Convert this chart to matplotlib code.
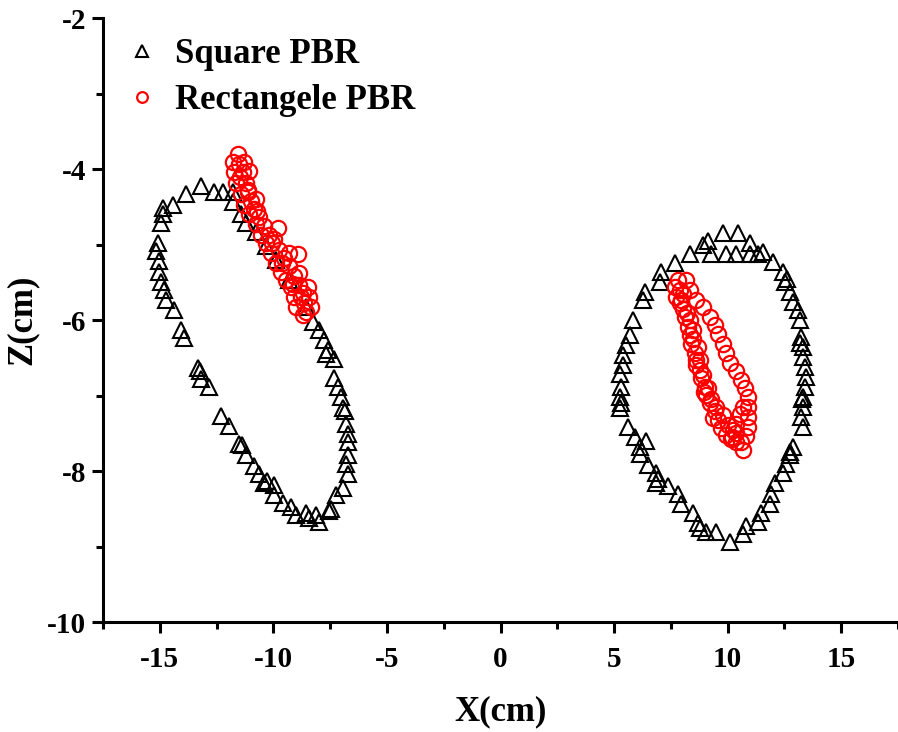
import matplotlib
matplotlib.use("Agg")
import matplotlib.pyplot as plt
from matplotlib.ticker import MultipleLocator

# Square PBR trajectory (black triangles)
sq_x = [-13.19, -13.85, -14.44, -14.88, -14.95, -15.10, -15.17, -15.02, -15.02, -14.95,
        -14.80, -14.73, -14.36, -14.07, -13.92, -13.33, -13.19, -12.82, -12.30, -11.94,
        -11.50, -11.20, -10.84, -10.62, -10.40, -9.96, -9.96, -9.59, -9.22, -9.00,
        -8.56, -8.12, -7.97, -7.53, -7.24, -6.95, -6.73, -6.80, -6.73, -6.73,
        -6.80, -6.95, -7.02, -7.17, -7.31, -7.31, -7.61, -7.75, -7.97, -8.27,
        -8.56, -9.30, -9.88, -10.32, -10.76, -11.20, -11.42, -11.79, -11.79, -12.23,
        -12.60, -14.85, -13.25, -11.40, -10.30, -8.45, -7.45, -6.70, -6.85, -7.70,
        # right loop
        9.79, 10.45, 10.97, 11.56, 12.00, 12.44, 12.51, 12.73, 12.88, 13.10,
        13.17, 13.25, 13.32, 13.32, 13.39, 13.47, 13.39, 13.32, 13.32, 13.25,
        13.32, 12.88, 12.73, 12.58, 12.44, 12.07, 11.92, 11.85, 11.48, 11.34,
        10.82, 10.68, 10.09, 9.50, 9.06, 8.69, 8.47, 7.96, 7.81, 7.37,
        6.86, 6.86, 6.49, 6.12, 6.12, 5.90, 5.61, 5.24, 5.24, 5.32,
        5.24, 5.39, 5.39, 5.54, 5.68, 5.83, 6.27, 6.34, 7.00, 7.08,
        7.67, 8.33, 8.91, 9.28, 9.94, 10.38, 10.97, 11.34, 9.15, 12.60,
        13.20, 13.28, 12.75, 8.80, 6.95, 5.30, 6.40]
sq_z = [-4.22, -4.33, -4.47, -4.60, -4.71, -4.98, -5.09, -5.22, -5.36, -5.49,
        -5.60, -5.73, -5.87, -6.13, -6.24, -6.64, -6.78, -6.89, -7.27, -7.40,
        -7.64, -7.78, -7.93, -8.04, -8.16, -8.18, -8.31, -8.42, -8.47, -8.58,
        -8.56, -8.58, -8.67, -8.53, -8.31, -8.22, -8.04, -7.91, -7.78, -7.51,
        -7.38, -7.16, -7.02, -6.89, -6.76, -6.51, -6.40, -6.27, -6.13, -6.02,
        -5.82, -5.47, -5.20, -5.02, -4.84, -4.71, -4.60, -4.44, -4.31, -4.31,
        -4.31, -4.52, -6.68, -7.66, -8.13, -8.62, -8.50, -7.62, -7.20, -6.45,
        # right loop
        -4.85, -4.85, -4.98, -5.10, -5.23, -5.36, -5.49, -5.63, -5.76, -5.87,
        -6.00, -6.22, -6.35, -6.49, -6.62, -6.75, -6.88, -7.02, -7.15, -7.28,
        -7.41, -7.68, -7.79, -7.90, -8.03, -8.16, -8.30, -8.43, -8.56, -8.67,
        -8.72, -8.83, -8.94, -8.80, -8.80, -8.69, -8.56, -8.43, -8.30, -8.19,
        -8.16, -8.03, -7.92, -7.77, -7.68, -7.55, -7.41, -7.17, -7.02, -6.88,
        -6.71, -6.60, -6.46, -6.33, -6.20, -6.00, -5.74, -5.63, -5.49, -5.36,
        -5.25, -5.12, -5.01, -5.12, -5.12, -5.12, -5.12, -5.12, -4.95, -5.45,
        -6.30, -7.05, -7.75, -8.75, -8.10, -7.10, -7.60]

# Rectangle PBR trajectory (red circles)
re_x = [-11.57, -11.50, -11.35, -11.20, -11.13, -10.98, -10.84, -10.62, -10.40, -10.18,
        -9.96, -9.74, -9.52, -9.30, -9.07, -8.85, -8.71, -8.63, -8.56, -8.71,
        -9.00, -9.07, -9.22, -9.44, -9.66, -9.88, -10.10, -10.32, -10.54, -10.76,
        -11.06, -11.28, -11.42, -11.64, -11.72, -11.79, -11.28, -11.06, -10.76, -9.81,
        -9.30, -8.93, -8.49, -8.41, -8.34, -8.85, -11.45, -11.10, -10.70, -10.05,
        -9.60, -9.15, -8.80,
        # right
        7.81, 7.89, 7.96, 8.03, 8.11, 8.25, 8.33, 8.40, 8.55, 8.62,
        8.77, 8.84, 8.99, 9.06, 9.21, 9.43, 9.57, 9.72, 9.94, 10.16,
        10.38, 10.68, 8.18, 8.33, 8.62, 8.91, 9.21, 9.43, 9.57, 9.80,
        9.94, 10.09, 10.38, 10.60, 10.75, 10.90, 10.90, 10.90, 10.90, 10.82,
        10.60, 10.38, 7.67, 7.74, 7.89, 8.33, 8.47, 8.69, 8.77, 8.91,
        9.13, 9.28, 9.50, 9.80, 10.02, 10.24, 10.38, 10.53, 10.68, 8.05,
        8.20, 8.48, 8.60, 8.95, 9.35, 10.20]
re_z = [-3.80, -3.93, -4.04, -4.18, -4.31, -4.42, -4.53, -4.64, -4.76, -4.87,
        -4.93, -5.07, -5.18, -5.29, -5.42, -5.53, -5.64, -5.78, -5.89, -5.93,
        -5.82, -5.69, -5.56, -5.47, -5.36, -5.24, -5.11, -4.98, -4.87, -4.73,
        -4.60, -4.47, -4.33, -4.18, -4.04, -3.91, -3.91, -4.02, -4.40, -4.78,
        -5.11, -5.13, -5.56, -5.69, -5.82, -5.38, -4.10, -4.28, -4.55, -4.98,
        -5.25, -5.52, -5.70,
        # right
        -5.47, -5.60, -5.73, -5.85, -5.96, -6.09, -6.20, -6.31, -6.44, -6.53,
        -6.66, -6.77, -6.88, -6.99, -7.10, -7.21, -7.32, -7.43, -7.52, -7.57,
        -7.61, -7.72, -5.47, -5.60, -5.73, -5.82, -5.96, -6.07, -6.18, -6.31,
        -6.44, -6.57, -6.68, -6.79, -6.90, -7.02, -7.15, -7.28, -7.41, -7.54,
        -7.61, -7.50, -5.56, -5.69, -5.78, -6.00, -6.13, -6.35, -6.53, -6.73,
        -6.90, -7.04, -7.15, -7.26, -7.39, -7.46, -7.37, -7.24, -7.15, -5.65,
        -5.90, -6.25, -6.60, -6.95, -7.30, -7.55]

plt.rcParams['font.family'] = ['Liberation Serif', 'DejaVu Serif']
plt.rcParams['font.weight'] = 'bold'
plt.rcParams['axes.unicode_minus'] = False

fig = plt.figure(figsize=(8.98, 7.32), dpi=100)
ax = fig.add_axes([0.1147, 0.150, 0.8853, 0.8254])

ax.plot(sq_x, sq_z, linestyle='none', marker='^', markersize=12,
        markerfacecolor='none', markeredgecolor='black', markeredgewidth=1.5,
        label='Square PBR')
ax.plot(re_x, re_z, linestyle='none', marker='o', markersize=11,
        markerfacecolor='none', markeredgecolor='red', markeredgewidth=1.6,
        label='Rectangele PBR')

ax.set_xlim(-17.5, 17.5)
ax.set_ylim(-10, -2)
ax.xaxis.set_major_locator(MultipleLocator(5))
ax.xaxis.set_minor_locator(MultipleLocator(2.5))
ax.yaxis.set_major_locator(MultipleLocator(2))
ax.yaxis.set_minor_locator(MultipleLocator(1))

for s in ['top', 'right']:
    ax.spines[s].set_visible(False)
for s in ['left', 'bottom']:
    ax.spines[s].set_linewidth(2.2)

ax.tick_params(which='major', direction='out', length=8, width=2.2, labelsize=21)
ax.tick_params(axis='x', which='major', pad=9)
ax.tick_params(axis='y', which='major', pad=4)
ax.tick_params(which='minor', direction='out', length=5, width=2.2)
for lab in ax.get_xticklabels() + ax.get_yticklabels():
    lab.set_fontweight('bold')

ax.set_xlabel('X(cm)', fontsize=25, fontweight='bold', labelpad=16)
ax.set_ylabel('Z(cm)', fontsize=25, fontweight='bold', labelpad=6)

ax.legend(loc='upper left', bbox_to_anchor=(0.01, 0.99), borderaxespad=0,
          frameon=False, markerscale=0.7, handlelength=1.0, handletextpad=0.45,
          labelspacing=0.38, prop={'weight': 'bold', 'size': 25})

fig.savefig('out.png', dpi=100)
